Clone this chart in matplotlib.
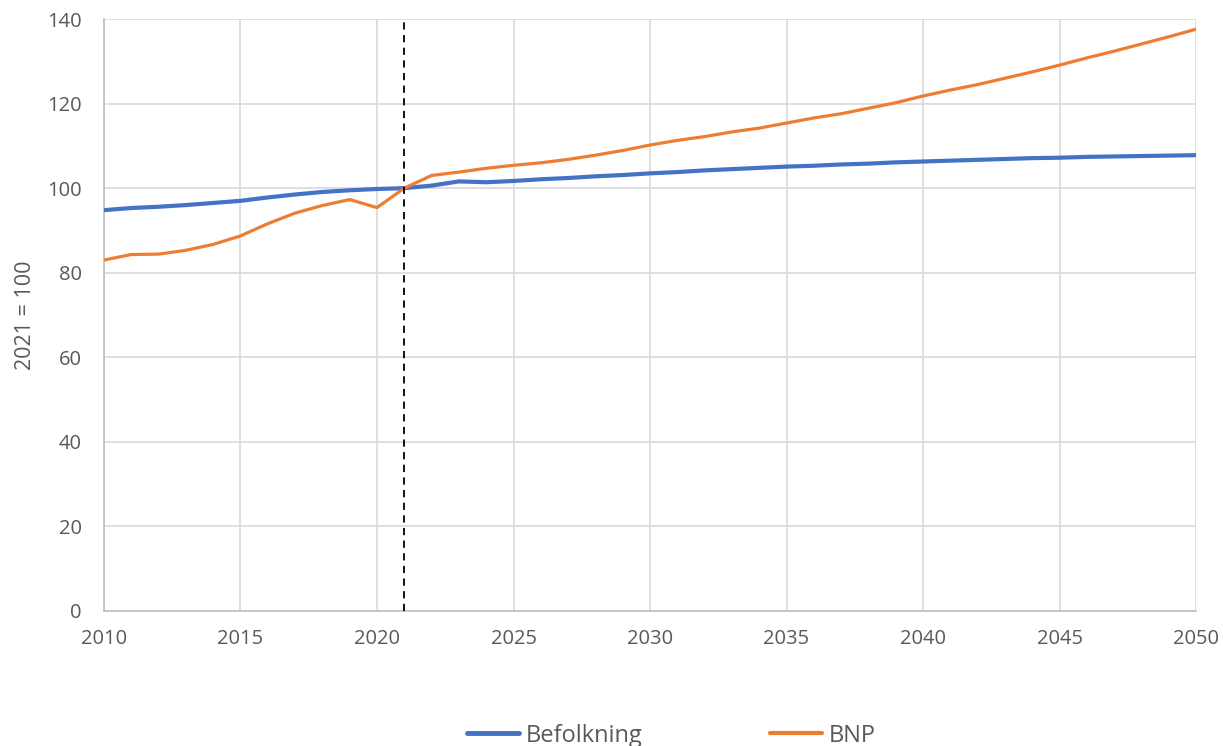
import matplotlib.pyplot as plt
from matplotlib.lines import Line2D

years = list(range(2010, 2051))

befolkning = [94.8, 95.3, 95.6, 96.0, 96.5, 97.0, 97.8, 98.5, 99.1, 99.5,
              99.8, 100.0, 100.6, 101.6, 101.4, 101.7, 102.1, 102.4, 102.8, 103.1,
              103.5, 103.8, 104.2, 104.5, 104.8, 105.1, 105.3, 105.6, 105.8, 106.1,
              106.3, 106.5, 106.7, 106.9, 107.1, 107.2, 107.4, 107.5, 107.6, 107.7,
              107.8]

bnp = [83.0, 84.3, 84.4, 85.3, 86.7, 88.7, 91.6, 94.1, 95.9, 97.3,
       95.4, 100.0, 103.0, 103.8, 104.7, 105.4, 106.0, 106.8, 107.8, 108.9,
       110.2, 111.3, 112.2, 113.3, 114.2, 115.4, 116.6, 117.6, 118.9, 120.2,
       121.8, 123.2, 124.5, 126.0, 127.5, 129.1, 130.8, 132.4, 134.1, 135.8,
       137.6]

plt.rcParams['font.family'] = ['Open Sans', 'DejaVu Sans']
grey = '#595959'

fig = plt.figure(figsize=(12.23, 7.46), dpi=100)
ax = fig.add_axes([0.085, 0.181, 0.893, 0.7935])

ax.plot(years, befolkning, color='#4472c4', lw=3.0, solid_capstyle='round', zorder=3)
ax.plot(years, bnp, color='#ed7d31', lw=2.3, solid_capstyle='round', zorder=3)
ax.axvline(2021, color='black', lw=1.3, ls=(0, (4, 3)), zorder=4)

ax.set_xlim(2010, 2050)
ax.set_ylim(0, 140)
ax.set_xticks(range(2010, 2051, 5))
ax.set_yticks(range(0, 141, 20))
ax.grid(True, color='#d9d9d9', lw=1.2)
ax.set_axisbelow(True)
for s in ['top', 'right']:
    ax.spines[s].set_visible(False)
for s in ['left', 'bottom']:
    ax.spines[s].set_color('#bfbfbf')
    ax.spines[s].set_linewidth(1.2)
ax.tick_params(length=0, labelsize=14.5, labelcolor=grey)
ax.tick_params(axis='x', pad=13)
ax.tick_params(axis='y', pad=16)
ax.set_ylabel('2021 = 100', fontsize=15.5, color=grey)
ax.yaxis.set_label_coords(-0.062, 0.5)

handles = [Line2D([], [], color='#4472c4', lw=3.5, solid_capstyle='round'),
           Line2D([], [], color='#ed7d31', lw=3, solid_capstyle='round')]
fig.legend(handles, ['Befolkning', 'BNP'], loc='center', bbox_to_anchor=(0.549, 0.014),
           ncol=2, frameon=False, fontsize=17, labelcolor=grey, handlelength=2.2,
           handletextpad=0.3, columnspacing=5.4)

fig.savefig('out.png', dpi=100)
